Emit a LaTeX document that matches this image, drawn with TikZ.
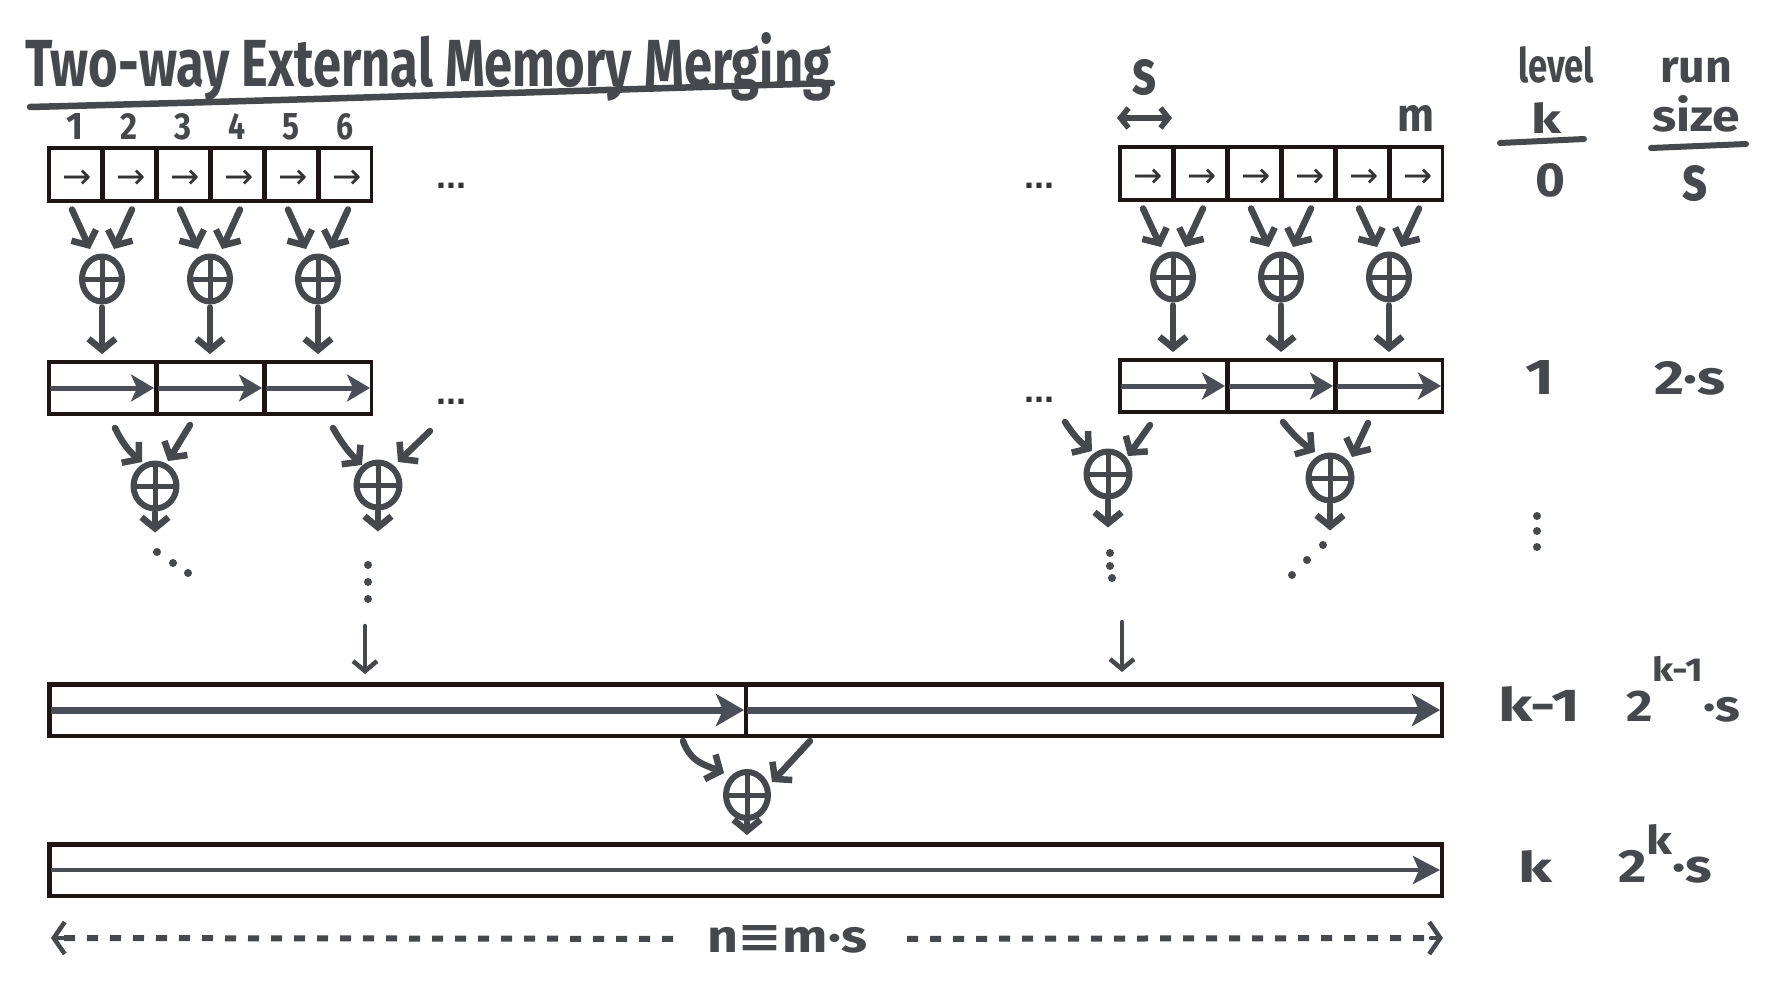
\documentclass[tikz,border=0pt]{standalone}
\usepackage{fontspec}
\setmainfont{Fira Sans}
\newfontfamily\dejavu{DejaVu Sans}
\newfontfamily\libsans{Liberation Sans}
\usetikzlibrary{arrows.meta,calc,shapes.geometric}
\definecolor{ink}{HTML}{45494E}
\definecolor{framec}{HTML}{1E1414}
\definecolor{runc}{HTML}{4A4F57}
\newcommand{\hwtext}[3]{\resizebox{#1pt}{#2pt}{\bfseries #3}}
\begin{document}
\begin{tikzpicture}[x=1pt,y=-1pt,line cap=round,line join=round,
  hw/.style={inner sep=0pt,outer sep=0pt,text=ink,anchor=base},
  frame/.style={fill=framec,draw=none,inner sep=0pt,outer sep=0pt,anchor=north west},
  cellbox/.style={fill=white,draw=framec,line width=0.9pt,inner sep=0pt,outer sep=0pt},
  cellarr/.style={inner sep=0pt,text=black!80,font=\dejavu\fontsize{35}{35}\selectfont},
  plusnode/.style={draw=ink,line width=6pt,ellipse,inner sep=0pt,outer sep=0pt,minimum width=40pt,minimum height=45pt},
  plusbar/.style={draw=ink,line width=5pt,line cap=butt},
  hand/.style={draw=ink,line width=6.5pt,-{Straight Barb[length=11pt,width=27pt]}},
  thinhand/.style={draw=ink,line width=4.5pt,-{Straight Barb[length=10pt,width=24pt]}},
  runarrow/.style={draw=runc,line width=5pt,line cap=butt,-{Stealth[length=23pt,width=27pt,inset=6pt]}},
  bigrun/.style={draw=runc,line width=7pt,line cap=butt,-{Stealth[length=28pt,width=32pt,inset=7pt]}},
  ellip/.style={inner sep=0pt,text=black!80,font=\libsans\bfseries\fontsize{36}{36}\selectfont},
  dashline/.style={draw=ink,line width=6pt,line cap=butt,dash pattern=on 11pt off 12pt},
  uline/.style={draw=ink,line width=6pt}
]
\useasboundingbox (0,0) rectangle (1789,991);
\fill[white] (0,0) rectangle (1789,991);

% ---------- title ----------
\node[hw,anchor=base west] (title) at (25,86) {\hwtext{806}{54}{Two-way External Memory Merging}};
\draw[uline,line width=6.5pt] (30,107) .. controls (300,100) and (600,90) .. (832,83);

% ---------- level 0 rows ----------
\node[frame,minimum width=326pt,minimum height=57pt] (r0L) at (47,146) {};
\node[frame,minimum width=326pt,minimum height=57pt] (r0R) at (1118,145) {};
\foreach \i in {1,...,6}{
  \node[cellbox,minimum width=50pt,minimum height=50pt] (r0L\i) at (75+54*\i-54,174.5) {};
  \node[cellarr] (a0L\i) at (77+54*\i-54,179) {→};
  \node[cellbox,minimum width=50pt,minimum height=50pt] (r0R\i) at (1146+54*\i-54,173.5) {};
  \node[cellarr] (a0R\i) at (1148+54*\i-54,178) {→};
}
\foreach \i/\d in {1/1,2/2,3/3,4/4,5/5,6/6}{
  \node[hw] (num\i) at (75+54*\i-54,139) {\hwtext{17}{26}{\d}};
}
\node[ellip] (dots0L) at (451,186) {...};
\node[ellip] (dots0R) at (1039,186) {...};

% s and m labels
\node[hw] (slab) at (1144,94) {\hwtext{24}{35}{s}};
\coordinate (sarrL) at (1117,118);
\coordinate (sarrR) at (1172,118);
\draw[draw=ink,line width=5.5pt,{Straight Barb[length=8pt,width=20pt]}-{Straight Barb[length=8pt,width=20pt]}] (sarrL) -- (sarrR);
\node[hw] (mlab) at (1416,131) {\hwtext{37}{26}{m}};

% ---------- level 1 rows ----------
\node[frame,minimum width=326pt,minimum height=56pt] (r1L) at (47,360) {};
\node[frame,minimum width=326pt,minimum height=56pt] (r1R) at (1118,358) {};
\foreach \i in {1,2,3}{
  \node[cellbox,minimum width=104pt,minimum height=49pt] (r1L\i) at (102+108*\i-108,388) {};
  \node[cellbox,minimum width=104pt,minimum height=49pt] (r1R\i) at (1173+108*\i-108,386) {};
}
\foreach \c in {r1L1,r1L2,r1L3,r1R1,r1R2,r1R3}{
  \draw[runarrow] (\c.west) -- (\c.east);
}
\node[ellip] (dots1L) at (451,402) {...};
\node[ellip] (dots1R) at (1039,400) {...};

% ---------- level 0 merges ----------
\foreach \p/\x/\y/\a/\b/\r/\q in {pa/102/279/1/2/r0L/r1L, pb/210/279/3/4/r0L/r1L, pc/318/279/5/6/r0L/r1L,
                          pd/1173/277/1/2/r0R/r1R, pe/1281/277/3/4/r0R/r1R, pf/1389/277/5/6/r0R/r1R}{
  \node[plusnode] (\p) at (\x,\y) {};
  \draw[plusbar] (\p.north) -- (\p.south) (\p.west) -- (\p.east);
  \draw[hand] ([xshift=-3pt,yshift=-10pt]\r\a.south) -- ($(\p)+(-12,-30)$);
  \draw[hand] ([xshift=3pt,yshift=-10pt]\r\b.south) -- ($(\p)+(12,-30)$);
  \draw[hand] ([yshift=-6pt]\p.south) -- ($(\p |- \q.north)+(0,-6)$);
}

% ---------- level 1 merges ----------
\foreach \p/\x/\y in {qa/155/486, qb/378/485, qc/1108/474, qd/1330/478}{
  \node[plusnode,minimum width=43pt,minimum height=45pt] (\p) at (\x,\y) {};
  \draw[plusbar] (\p.north) -- (\p.south) (\p.west) -- (\p.east);
}
\draw[hand] ($(qa)+(-40,-58)$) to[bend right=12] ($(qa)+(-13,-24)$);
\draw[hand] ($(qa)+(35,-61)$) -- ($(qa)+(13,-25)$);
\draw[hand] ([yshift=-4pt]qa.south) -- ([yshift=-24pt]qa.south);
\draw[hand] ($(qb)+(-45,-57)$) to[bend right=8] ($(qb)+(-16,-20)$);
\draw[hand] ($(qb)+(52,-54)$) -- ($(qb)+(20,-23)$);
\draw[hand] ([yshift=-4pt]qb.south) -- ([yshift=-24pt]qb.south);
\draw[hand] ($(qc)+(-43,-52)$) to[bend right=10] ($(qc)+(-16,-23)$);
\draw[hand] ($(qc)+(42,-49)$) -- ($(qc)+(20,-18)$);
\draw[hand] ([yshift=-4pt]qc.south) -- ([yshift=-31pt]qc.south);
\draw[hand] ($(qd)+(-47,-56)$) to[bend right=8] ($(qd)+(-15,-26)$);
\draw[hand] ($(qd)+(38,-55)$) -- ($(qd)+(22,-21)$);
\draw[hand] ([yshift=-4pt]qd.south) -- ([yshift=-30pt]qd.south);
% dots
\foreach \x/\y in {157/552,173/563,188/573, 368/565,368/582,368/599,
                   1110/553,1110/566,1112/578, 1323/545,1307/560,1292/575,
                   1537/516,1537/531,1537/547}{
  \fill[ink] (\x,\y) circle (4);
}

% ---------- level k-1 ----------
\node[frame,minimum width=1397pt,minimum height=56pt] (rk1) at (47,682) {};
\node[cellbox,minimum width=693pt,minimum height=48pt] (rk1a) at (397.5,710) {};
\node[cellbox,minimum width=693pt,minimum height=48pt] (rk1b) at (1093.5,710) {};
\draw[bigrun] (rk1a.west) -- (rk1a.east);
\draw[bigrun] (rk1b.west) -- (rk1b.east);
\coordinate (inA) at (365,626);
\coordinate (inB) at (1122,622);
\draw[thinhand] (inA) -- ($(inA |- rk1.north)+(0,-8)$);
\draw[thinhand] (inB) -- ($(inB |- rk1.north)+(0,-10)$);

% ---------- final merge ----------
\node[plusnode,minimum width=42pt,minimum height=46pt] (pk) at (747,795) {};
\draw[plusbar] (pk.north) -- (pk.south) (pk.west) -- (pk.east);
\draw[hand] ([xshift=-64pt,yshift=-3pt]rk1.south -| pk) .. controls +(8,22) and +(-18,-8) .. ($(pk)+(-23,-22)$);
\draw[hand] ([xshift=63pt,yshift=-3pt]rk1.south -| pk) -- ($(pk)+(25,-13)$);

% ---------- level k ----------
\node[frame,minimum width=1397pt,minimum height=56pt] (rk) at (47,842) {};
\node[cellbox,minimum width=1389pt,minimum height=48pt] (rka) at (745.5,870) {};
\draw[hand] ([yshift=-3pt]pk.south) -- ($(pk |- rk.north)+(0,-7)$);
\draw[runarrow,line width=4.5pt,-{Stealth[length=27pt,width=28pt,inset=6pt]}] (rka.west) -- (rka.east);

% ---------- bottom extent ----------
\node[hw] (nlab) at (787,952) {\hwtext{160}{27}{n{\dejavu ≡}m·s}};
\coordinate (extL) at (51,938);
\coordinate (extR) at (1443,938);
\draw[dashline] ([xshift=-34pt]nlab.west) -- ([xshift=8pt]extL);
\draw[dashline] ([xshift=40pt]nlab.east) -- ([xshift=-8pt]extR);
\draw[draw=ink,line width=4.5pt,-{Straight Barb[length=11pt,width=32pt]}] ([xshift=12pt]extL) -- (extL);
\draw[draw=ink,line width=4.5pt,-{Straight Barb[length=11pt,width=32pt]}] ([xshift=-12pt]extR) -- (extR);

% ---------- right columns ----------
\node[hw] (levlab) at (1556,82) {\hwtext{76}{36}{level}};
\node[hw] (klab) at (1546,133) {\hwtext{30}{31}{k}};
\draw[uline] (1500,143) -- (1584,139);
\node[hw] (runlab) at (1696,82) {\hwtext{72}{25}{run}};
\node[hw] (sizelab) at (1696,131) {\hwtext{88}{36}{size}};
\draw[uline] (1651,148) -- (1746,144);
\node[hw] (l0) at (1550,196) {\hwtext{30}{33}{0}};
\node[hw] (s0) at (1695,200) {\hwtext{25}{35}{s}};
\node[hw] (l1) at (1540,394) {\hwtext{29}{34}{1}};
\node[hw] (s1) at (1690,394) {\hwtext{71}{33}{2·s}};
\node[hw] (lk1) at (1539,721) {\hwtext{82}{35}{k-1}};
\node[hw] (sk1) at (1683,721) {\hwtext{114}{65}{2\raisebox{0.9em}{\scalebox{0.75}{k-1}}·s}};
\node[hw] (lk) at (1535,882) {\hwtext{34}{32}{k}};
\node[hw] (sk) at (1665,882) {\hwtext{94}{58}{2\raisebox{0.6em}{\scalebox{0.85}{k}}·s}};
\end{tikzpicture}
\end{document}
